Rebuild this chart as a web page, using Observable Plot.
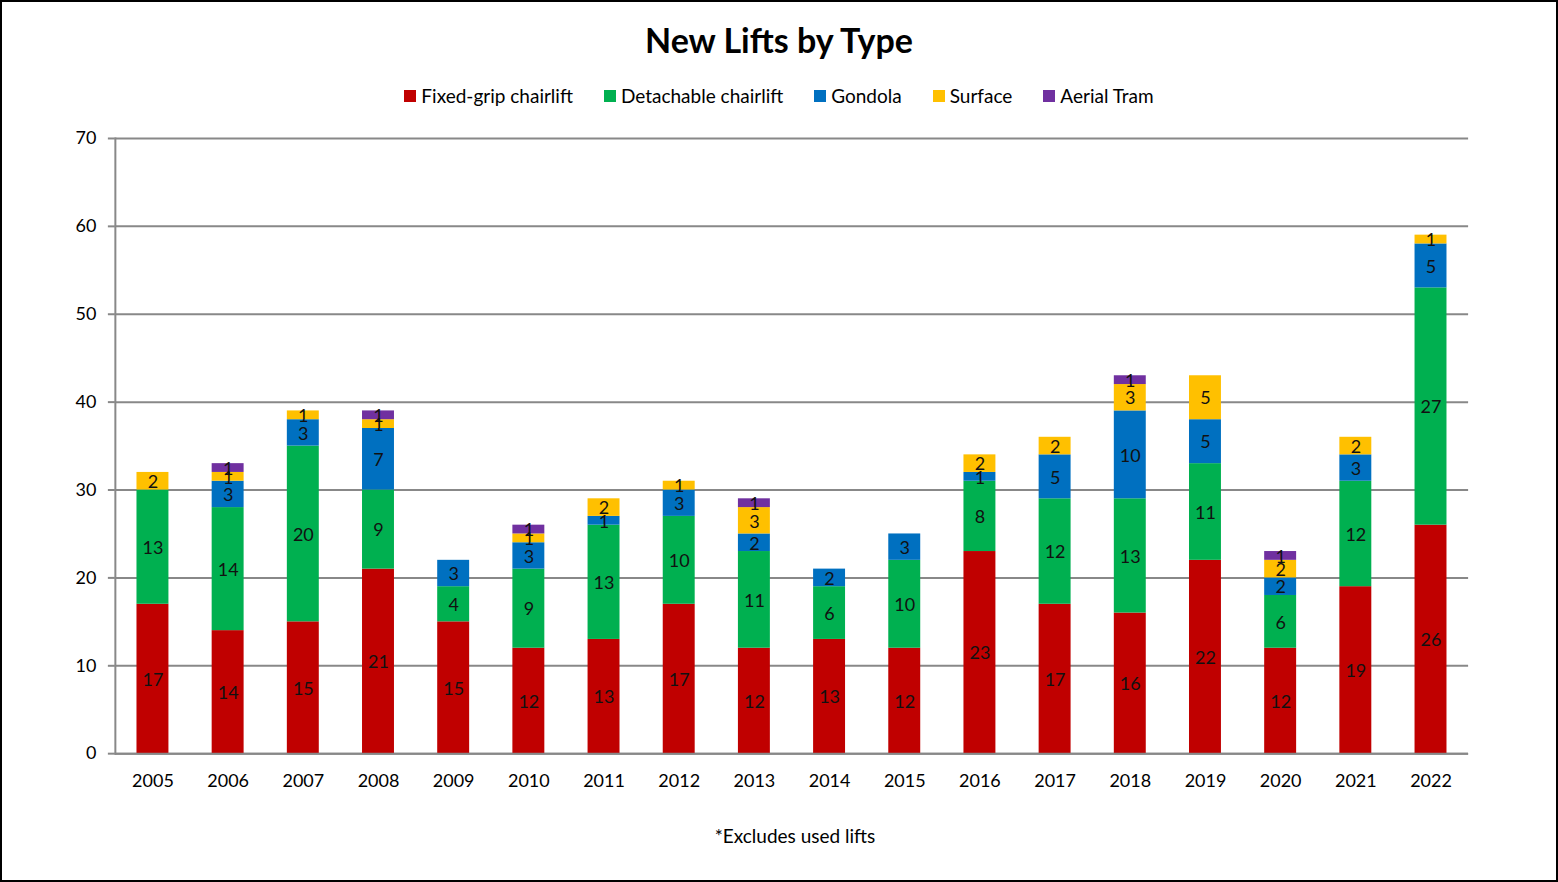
<!DOCTYPE html>
<html>
<head>
<meta charset="utf-8">
<script src="https://cdn.jsdelivr.net/npm/d3@7"></script>
<script src="https://cdn.jsdelivr.net/npm/@observablehq/plot@0.6"></script>
<style>
  body { margin: 0; background: #fff; }
  #wrap { position: relative; width: 1558px; height: 882px; box-sizing: border-box; border: 2px solid #000; font-family: Lato, "Open Sans", sans-serif; color: #000; overflow: hidden; }
  #title { position: absolute; top: 18px; left: 0; width: 100%; text-align: center; font-weight: bold; font-size: 34px; line-height: 40px; }
  #legend { position: absolute; top: 83px; left: 0; width: 100%; display: flex; justify-content: center; gap: 31px; font-size: 19px; line-height: 22px; }
  #legend .item { display: flex; align-items: center; gap: 5px; }
  #legend .sw { width: 12px; height: 12px; display: inline-block; }
  #chart { position: absolute; left: -2px; top: 116px; }
  #caption { position: absolute; top: 823px; left: 0; width: 100%; text-align: center; font-size: 19px; line-height: 22px; padding-left: 32px; box-sizing: border-box; }
</style>
</head>
<body>
<div id="wrap">
  <div id="title">New Lifts by Type</div>
  <div id="legend"></div>
  <div id="chart"></div>
  <div id="caption">*Excludes used lifts</div>
</div>
<script>
const years = ["2005","2006","2007","2008","2009","2010","2011","2012","2013","2014","2015","2016","2017","2018","2019","2020","2021","2022"];
const types = ["Fixed-grip chairlift","Detachable chairlift","Gondola","Surface","Aerial Tram"];
const colors = ["#C00000","#00B050","#0070C0","#FFC000","#7030A0"];
const fixedGrip  = [17,14,15,21,15,12,13,17,12,13,12,23,17,16,22,12,19,26];
const detachable = [13,14,20, 9, 4, 9,13,10,11, 6,10, 8,12,13,11, 6,12,27];
const gondola    = [ 0, 3, 3, 7, 3, 3, 1, 3, 2, 2, 3, 1, 5,10, 5, 2, 3, 5];
const surface    = [ 2, 1, 1, 1, 0, 1, 2, 1, 3, 0, 0, 2, 2, 3, 5, 2, 2, 1];
const aerialTram = [ 0, 1, 0, 1, 0, 1, 0, 0, 1, 0, 0, 0, 0, 1, 0, 1, 0, 0];
const yTicks = [0,10,20,30,40,50,60,70];

const series = [fixedGrip, detachable, gondola, surface, aerialTram];
const data = [];
years.forEach((year, i) => {
  types.forEach((type, j) => {
    if (series[j][i] > 0) data.push({year, type, value: series[j][i]});
  });
});

// legend
const legend = document.getElementById("legend");
types.forEach((t, j) => {
  const it = document.createElement("span");
  it.className = "item";
  it.innerHTML = `<span class="sw" style="background:${colors[j]}"></span><span>${t}</span>`;
  legend.appendChild(it);
});

const chart = Plot.plot({
  width: 1558,
  height: 684,
  marginLeft: 115,
  marginRight: 88,
  marginTop: 20,
  marginBottom: 48,
  style: { fontFamily: "Lato, 'Open Sans', sans-serif", fontSize: "18px", color: "#000", background: "transparent" },
  x: { domain: years, paddingInner: 0.575, paddingOuter: 0.2875, round: false, label: null },
  y: { domain: [0, 70], label: null },
  color: { domain: types, range: colors },
  marks: [
    Plot.gridY(yTicks, { stroke: "#888", strokeOpacity: 1, strokeWidth: 2 }),
    Plot.barY(data, { x: "year", y: "value", fill: "type", order: types }),
    Plot.text(data, Plot.stackY({ x: "year", y: "value", z: "type", order: types, text: "value", fill: "#111", fontSize: 18, dy: 1 })),
    Plot.axisY(yTicks, { tickSize: 7, tickPadding: 12, stroke: "#888", strokeWidth: 2, fontSize: 18, label: null, tickFormat: d => String(d) }),
    Plot.ruleY([0], { stroke: "#888", strokeWidth: 2 }),
    Plot.frame({ anchor: "left", stroke: "#888", strokeWidth: 2 }),
    Plot.axisX({ tickSize: 0, tickPadding: 21, fontSize: 18, label: null })
  ]
});
document.getElementById("chart").appendChild(chart);
</script>
</body>
</html>
